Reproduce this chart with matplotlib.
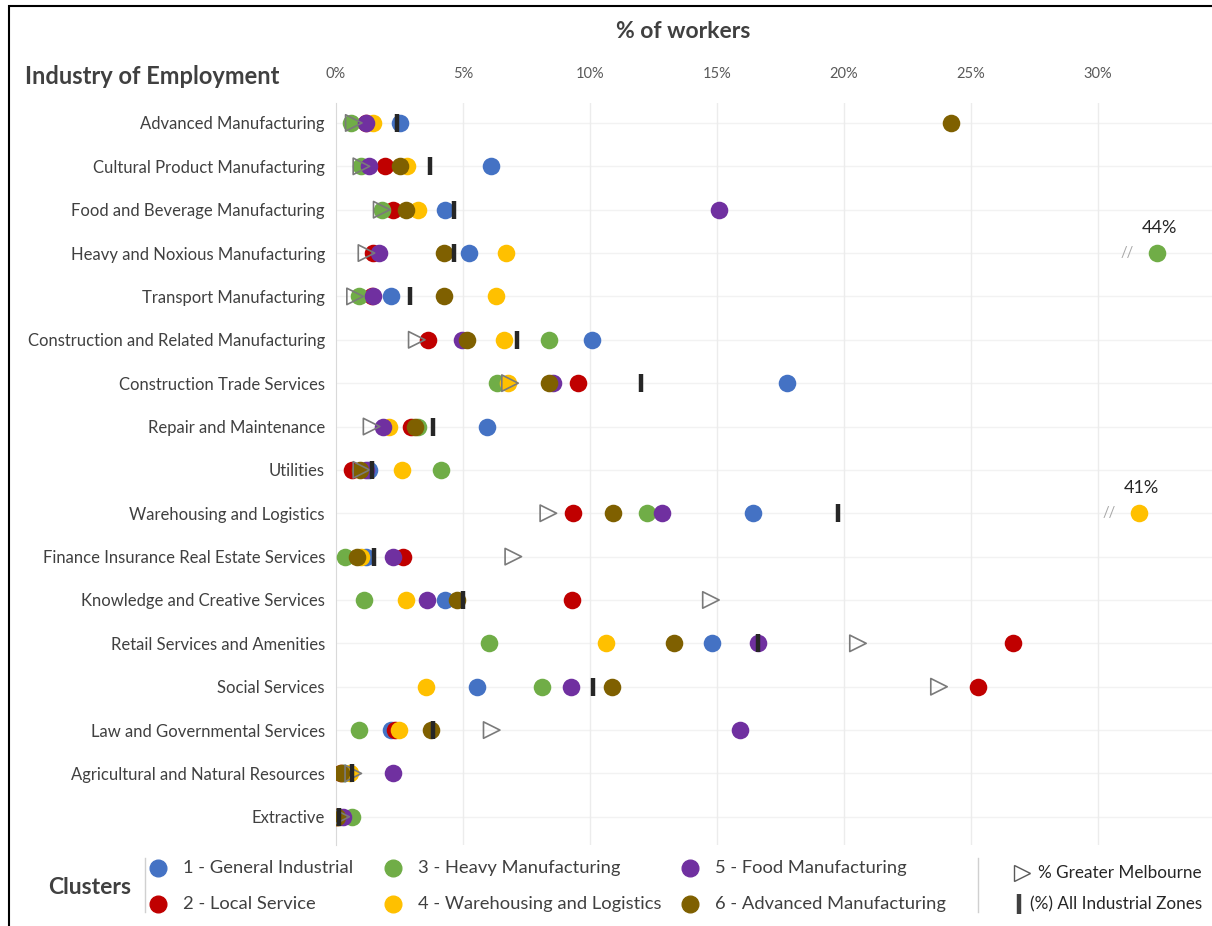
import numpy as np
import matplotlib.pyplot as plt
from matplotlib.lines import Line2D
from matplotlib.patches import Rectangle

plt.rcParams['font.family'] = ['Lato', 'DejaVu Sans']

industries = [
    "Advanced Manufacturing", "Cultural Product Manufacturing",
    "Food and Beverage Manufacturing", "Heavy and Noxious Manufacturing",
    "Transport Manufacturing", "Construction and Related Manufacturing",
    "Construction Trade Services", "Repair and Maintenance", "Utilities",
    "Warehousing and Logistics", "Finance Insurance Real Estate Services",
    "Knowledge and Creative Services", "Retail Services and Amenities",
    "Social Services", "Law and Governmental Services",
    "Agricultural and Natural Resources", "Extractive",
]

cluster_names = [
    "1 - General Industrial", "2 - Local Service", "3 - Heavy Manufacturing",
    "4 - Warehousing and Logistics", "5 - Food Manufacturing",
    "6 - Advanced Manufacturing",
]
cluster_colors = ["#4472C4", "#C00000", "#70AD47", "#FFC000", "#7030A0", "#7F6000"]

general_industrial = [2.5, 6.1, 4.3, 5.24, 2.15, 10.07, 17.76, 5.93, 1.3, 16.4, 1.18, 4.29, 14.8, 5.56, 2.17, 0.3, 0.1]
local_service = [1.2, 1.93, 2.23, 1.44, 1.4, 3.64, 9.54, 2.94, 0.64, 9.34, 2.65, 9.3, 26.65, 25.28, 2.32, 0.2, 0.0]
heavy_manufacturing = [0.58, 1.0, 1.8, 44, 0.92, 8.4, 6.33, 3.24, 4.12, 12.26, 0.35, 1.12, 6.04, 8.1, 0.92, 0.3, 0.62]
warehousing_logistics = [1.46, 2.8, 3.24, 6.68, 6.3, 6.63, 6.79, 2.1, 2.58, 41, 1.0, 2.76, 10.62, 3.54, 2.49, 0.55, 0.1]
food_manufacturing = [1.2, 1.3, 15.08, 1.69, 1.47, 4.95, 8.56, 1.84, 1.2, 12.85, 2.26, 3.6, 16.6, 9.25, 15.9, 2.26, 0.29]
advanced_manufacturing = [24.2, 2.5, 2.76, 4.25, 4.25, 5.14, 8.37, 3.11, 0.94, 10.89, 0.81, 4.78, 13.32, 10.85, 3.74, 0.18, 0.05]

greater_melbourne = [0.7, 1.0, 1.8, 1.2, 0.75, 3.18, 6.85, 1.4, 1.0, 8.36, 6.98, 14.76, 20.55, 23.74, 6.13, 0.68, 0.2]
all_industrial_zones = [2.4, 3.7, 4.66, 4.65, 2.91, 7.11, 12.0, 3.8, 1.43, 19.78, 1.5, 4.99, 16.6, 10.1, 3.8, 0.62, 0.13]

clusters = [general_industrial, local_service, heavy_manufacturing,
            warehousing_logistics, food_manufacturing, advanced_manufacturing]

AXIS_MAX = 30


def broken(v):
    # values beyond 30% are squeezed past a break in the axis
    v = np.asarray(v, dtype=float)
    return np.where(v > AXIS_MAX, 29.0 + (v - AXIS_MAX) * 0.236, v)


fig = plt.figure(figsize=(12.12, 9.26), dpi=100)
ax = fig.add_axes([336 / 1212, 1 - 845 / 926, 1 - 336 / 1212, (845 - 103) / 926])

ypos = np.arange(len(industries))

for y in ypos:
    ax.axhline(y, color="#f2f2f2", lw=1, zorder=0)
for x in range(5, 31, 5):
    ax.axvline(x, color="#ececec", lw=1, zorder=0)

for i, vals in enumerate(clusters):
    ax.scatter(broken(vals), ypos, s=160, color=cluster_colors[i], lw=0, zorder=2 + i)

ax.scatter(greater_melbourne, ypos, marker=">", s=140, facecolors="none",
           edgecolors="#7a7a7a", linewidths=1.2, zorder=10)
ax.scatter(all_industrial_zones, ypos, marker="|", s=180, color="#262626",
           linewidths=3.2, zorder=11)

# break marks and real values for the squeezed points
for vals in clusters:
    for y, v in zip(ypos, vals):
        if v > AXIS_MAX:
            d = float(broken(v))
            ax.text(d - 1.15, y, "//", ha="center", va="center", fontsize=10.5,
                    color="#a6a6a6", zorder=12)
            ax.text(d + 0.1, y - 0.4, f"{v:.0f}%", ha="center", va="bottom",
                    fontsize=13, color="#262626")

ax.set_xlim(0, (1212 - 336) / 25.4)
ax.set_ylim(16.65, -0.46)
ax.set_xticks(range(0, 31, 5))
ax.set_xticklabels([f"{x}%" for x in range(0, 31, 5)], fontsize=10.5, color="#595959")
ax.xaxis.tick_top()
ax.tick_params(axis="x", length=0, pad=16)
ax.set_yticks(ypos)
ax.set_yticklabels(industries, fontsize=12, color="#404040")
ax.tick_params(axis="y", length=0, pad=8)
for side in ["top", "right", "bottom"]:
    ax.spines[side].set_visible(False)
ax.spines["left"].set_color("#d9d9d9")

fig.text(683 / 1212, 1 - 32 / 926, "% of workers", ha="center", va="center",
         fontsize=16.5, fontweight="bold", color="#404040")
fig.text(25 / 1212, 1 - 76 / 926, "Industry of Employment", ha="left", va="center",
         fontsize=17, fontweight="bold", color="#404040")

# legend
fig.text(48 / 1212, 1 - 888 / 926, "Clusters", ha="left", va="center",
         fontsize=16.5, fontweight="bold", color="#404040")
for xs in [145, 978]:
    fig.add_artist(Line2D([xs / 1212, xs / 1212], [1 - 858 / 926, 1 - 912 / 926],
                          color="#d0d0d0", lw=1))
col_x = [158, 393, 690]
row_y = [868, 904]
for i, name in enumerate(cluster_names):
    cx = col_x[i // 2]
    cy = row_y[i % 2]
    fig.add_artist(Line2D([cx / 1212], [1 - cy / 926], marker="o", markersize=12,
                          color=cluster_colors[i], lw=0))
    fig.text((cx + 25) / 1212, 1 - cy / 926, name, ha="left", va="center",
             fontsize=13.2, color="#404040")

fig.add_artist(Line2D([1022 / 1212], [1 - 873 / 926], marker=">", markersize=11,
                      markerfacecolor="none", markeredgecolor="#595959", lw=0))
fig.text(1038 / 1212, 1 - 873 / 926, "% Greater Melbourne", ha="left", va="center",
         fontsize=12.3, color="#262626")
fig.add_artist(Line2D([1019 / 1212], [1 - 904 / 926], marker="|", markersize=14,
                      markeredgewidth=3.2, color="#404040", lw=0))
fig.text(1030 / 1212, 1 - 904 / 926, "(%) All Industrial Zones", ha="left", va="center",
         fontsize=12.3, color="#262626")

# outer frame
fig.add_artist(Rectangle((9 / 1212, -0.1), 1.2, 1 - 6 / 926 + 0.1, fill=False,
                         edgecolor="black", lw=1.5, transform=fig.transFigure))

fig.savefig("out.png", dpi=100)
